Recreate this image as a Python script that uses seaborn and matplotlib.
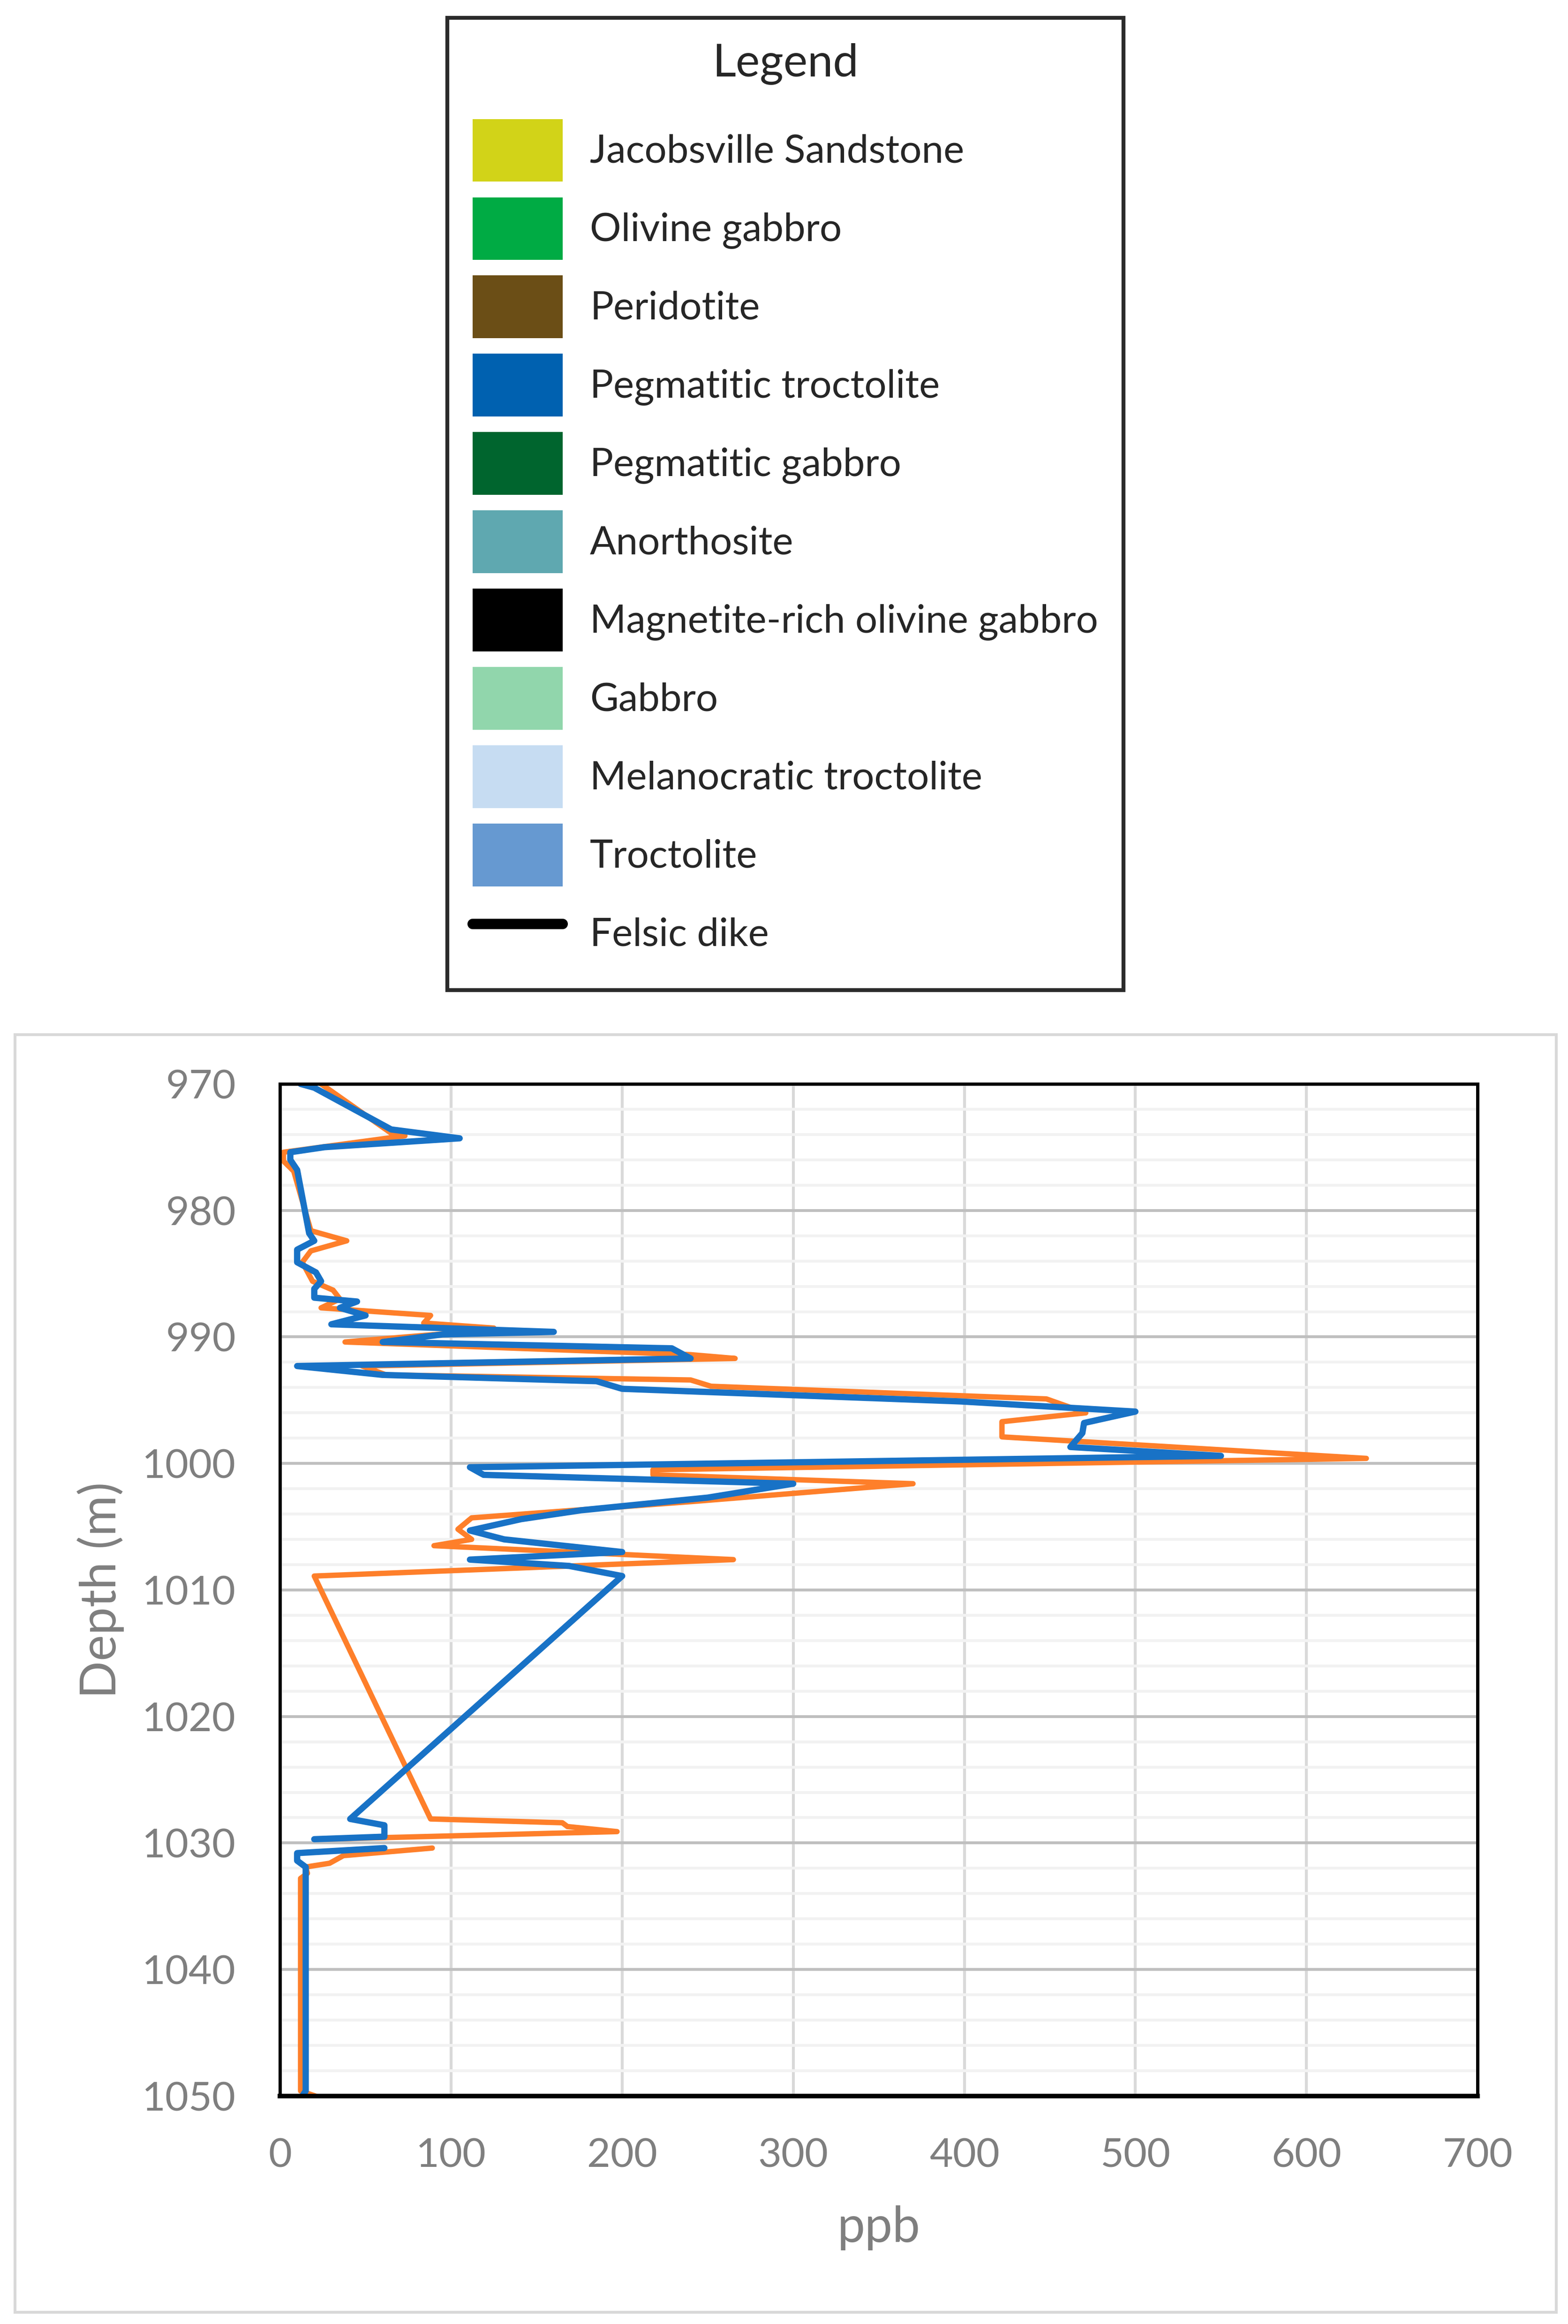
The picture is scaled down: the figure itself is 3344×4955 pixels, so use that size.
import numpy as np
import pandas as pd
import seaborn as sns
import matplotlib.pyplot as plt
from matplotlib.patches import Patch, Rectangle
from matplotlib.lines import Line2D
from matplotlib.ticker import MultipleLocator

# orange profile: depth (m) and concentration (ppb); NaN marks the break in the log
orange_depth = [970.0, 973.9, 974.1, 975.4, 976.1, 976.9, 981.6, 982.4, 983.2, 984.1,
                985.6, 986.3, 987.0, 987.7, 988.3, 988.9, 989.3, 989.7, 990.4, 991.4,
                991.7, 992.3, 993.0, 993.4, 993.9, 994.9, 996.0, 996.7, 997.9, 999.6,
                1000.5, 1000.9, 1001.6, 1003.0, 1004.3, 1005.2, 1006.0, 1006.5, 1007.6, 1008.9,
                1028.1, 1028.4, 1028.7, 1029.1, 1029.7, np.nan, 1030.4, 1031.0, 1031.6, 1031.9,
                1032.4, 1032.8, 1049.6, 1050.2]
orange_ppb = [24, 65, 73, 2, 2, 8, 18, 39, 18, 13,
              19, 31, 35, 24, 88, 84, 125, 100, 38, 240,
              266, 48, 62, 240, 252, 448, 471, 422, 422, 635,
              218, 218, 370, 242, 112, 104, 112, 90, 265, 20,
              88, 165, 168, 197, 25, np.nan, 89, 37, 29, 15,
              16, 12, 12, 25]

# blue profile
blue_depth = [970.0, 970.3, 973.6, 974.3, 975.0, 975.4, 976.0, 976.8, 981.8, 982.4,
              983.1, 984.1, 984.9, 985.6, 986.2, 986.9, 987.2, 987.7, 988.3, 989.0,
              989.6, 989.8, 990.4, 990.9, 991.7, 992.3, 993.0, 993.5, 994.1, 995.1,
              995.9, 996.8, 997.6, 998.7, 999.4, 1000.3, 1000.9, 1001.6, 1002.7, 1003.7,
              1004.4, 1005.3, 1006.0, 1007.0, 1007.6, 1008.1, 1008.9, 1028.1, 1028.6, 1029.5,
              1029.7, np.nan, 1030.4, 1030.8, 1031.4, 1031.9, 1049.6, 1050.2]
blue_ppb = [12, 20, 65, 105, 26, 6, 6, 10, 17, 20,
            10, 10, 21, 24, 20, 20, 45, 35, 50, 30,
            160, 95, 60, 229, 240, 10, 60, 185, 200, 398,
            500, 470, 469, 462, 550, 111, 119, 300, 250, 176,
            141, 111, 131, 200, 111, 169, 200, 41, 61, 61,
            20, np.nan, 61, 10, 10, 15, 15, 12]

legend_labels = ['Jacobsville Sandstone', 'Olivine gabbro', 'Peridotite',
                 'Pegmatitic troctolite', 'Pegmatitic gabbro', 'Anorthosite',
                 'Magnetite-rich olivine gabbro', 'Gabbro', 'Melanocratic troctolite',
                 'Troctolite']
legend_colors = ['#d2d318', '#00ab44', '#6b4e16', '#0061b0', '#00652e', '#5fa8b0',
                 '#000000', '#91d6ac', '#c6dcf2', '#6699d1']

x_ticks = [0, 100, 200, 300, 400, 500, 600, 700]
y_ticks = [970, 980, 990, 1000, 1010, 1020, 1030, 1040, 1050]


def make_frame(depth, ppb, name):
    df = pd.DataFrame({'depth': depth, 'ppb': ppb})
    # split into pieces where the log has a gap
    df['piece'] = df['depth'].isna().cumsum()
    df = df.dropna()
    df['series'] = name
    return df


sns.set_style('white')
plt.rcParams['font.family'] = ['Lato', 'DejaVu Sans']

fig = plt.figure(figsize=(16.72, 24.775), dpi=200)
ax = fig.add_axes([0.1786, 0.0981, 0.7637, 0.4355])

grey = '#7f7f7f'
for depth, ppb, name, color, lw in [(orange_depth, orange_ppb, 'orange', '#fe7f2a', 4.1),
                                    (blue_depth, blue_ppb, 'blue', '#1872c6', 4.8)]:
    df = make_frame(depth, ppb, name)
    sns.lineplot(data=df, x='ppb', y='depth', units='piece', estimator=None,
                 sort=False, orient='y', color=color, linewidth=lw, ax=ax,
                 solid_capstyle='round', solid_joinstyle='round', legend=False)

ax.set_xlim(0, 700)
ax.set_ylim(1050, 970)
ax.set_xticks(x_ticks)
ax.set_yticks(y_ticks)
ax.yaxis.set_minor_locator(MultipleLocator(2))
ax.set_axisbelow(True)
ax.grid(axis='x', which='major', color='#d9d9d9', linewidth=2.2)
ax.grid(axis='y', which='major', color='#bfbfbf', linewidth=2.2)
ax.grid(axis='y', which='minor', color='#f2f2f2', linewidth=2.2)

ax.tick_params(axis='x', which='major', direction='in', length=12, width=3,
               color='black', labelsize=31, labelcolor=grey, pad=32, top=False)
ax.tick_params(axis='y', which='both', length=0, labelsize=31, labelcolor=grey, pad=34)

for side, sp in ax.spines.items():
    sp.set_visible(True)
    sp.set_color('black')
    sp.set_linewidth(2.5)
ax.spines['bottom'].set_linewidth(3.5)

ax.set_xlabel('ppb', fontsize=38, color=grey)
ax.set_ylabel('Depth (m)', fontsize=38, color=grey)
ax.xaxis.set_label_coords(0.5, -0.108)
ax.yaxis.set_label_coords(-0.13, 0.5)

# light border of the chart area
fig.add_artist(Rectangle((0.0096, 0.005), 0.9829, 0.5498, transform=fig.transFigure,
                         fill=False, edgecolor='#d9d9d9', linewidth=2.2))

handles = [Patch(facecolor=c, edgecolor='none') for c in legend_colors]
handles.append(Line2D([0], [0], color='black', linewidth=8))
labels = legend_labels + ['Felsic dike']
leg = fig.legend(handles, labels, loc='upper left', bbox_to_anchor=(0.2853, 0.9923),
                 borderaxespad=0, fontsize=30, title='Legend', title_fontsize=35,
                 handlelength=2.3, handleheight=2.09, handletextpad=0.7,
                 labelspacing=0.4, borderpad=0.65, fancybox=False, framealpha=1)
leg.get_frame().set_edgecolor('#2b2b2b')
leg.get_frame().set_linewidth(3)
# more room between the title and the first entry
leg._legend_box.sep = 26

fig.savefig('out.png', dpi=200, facecolor='white')
